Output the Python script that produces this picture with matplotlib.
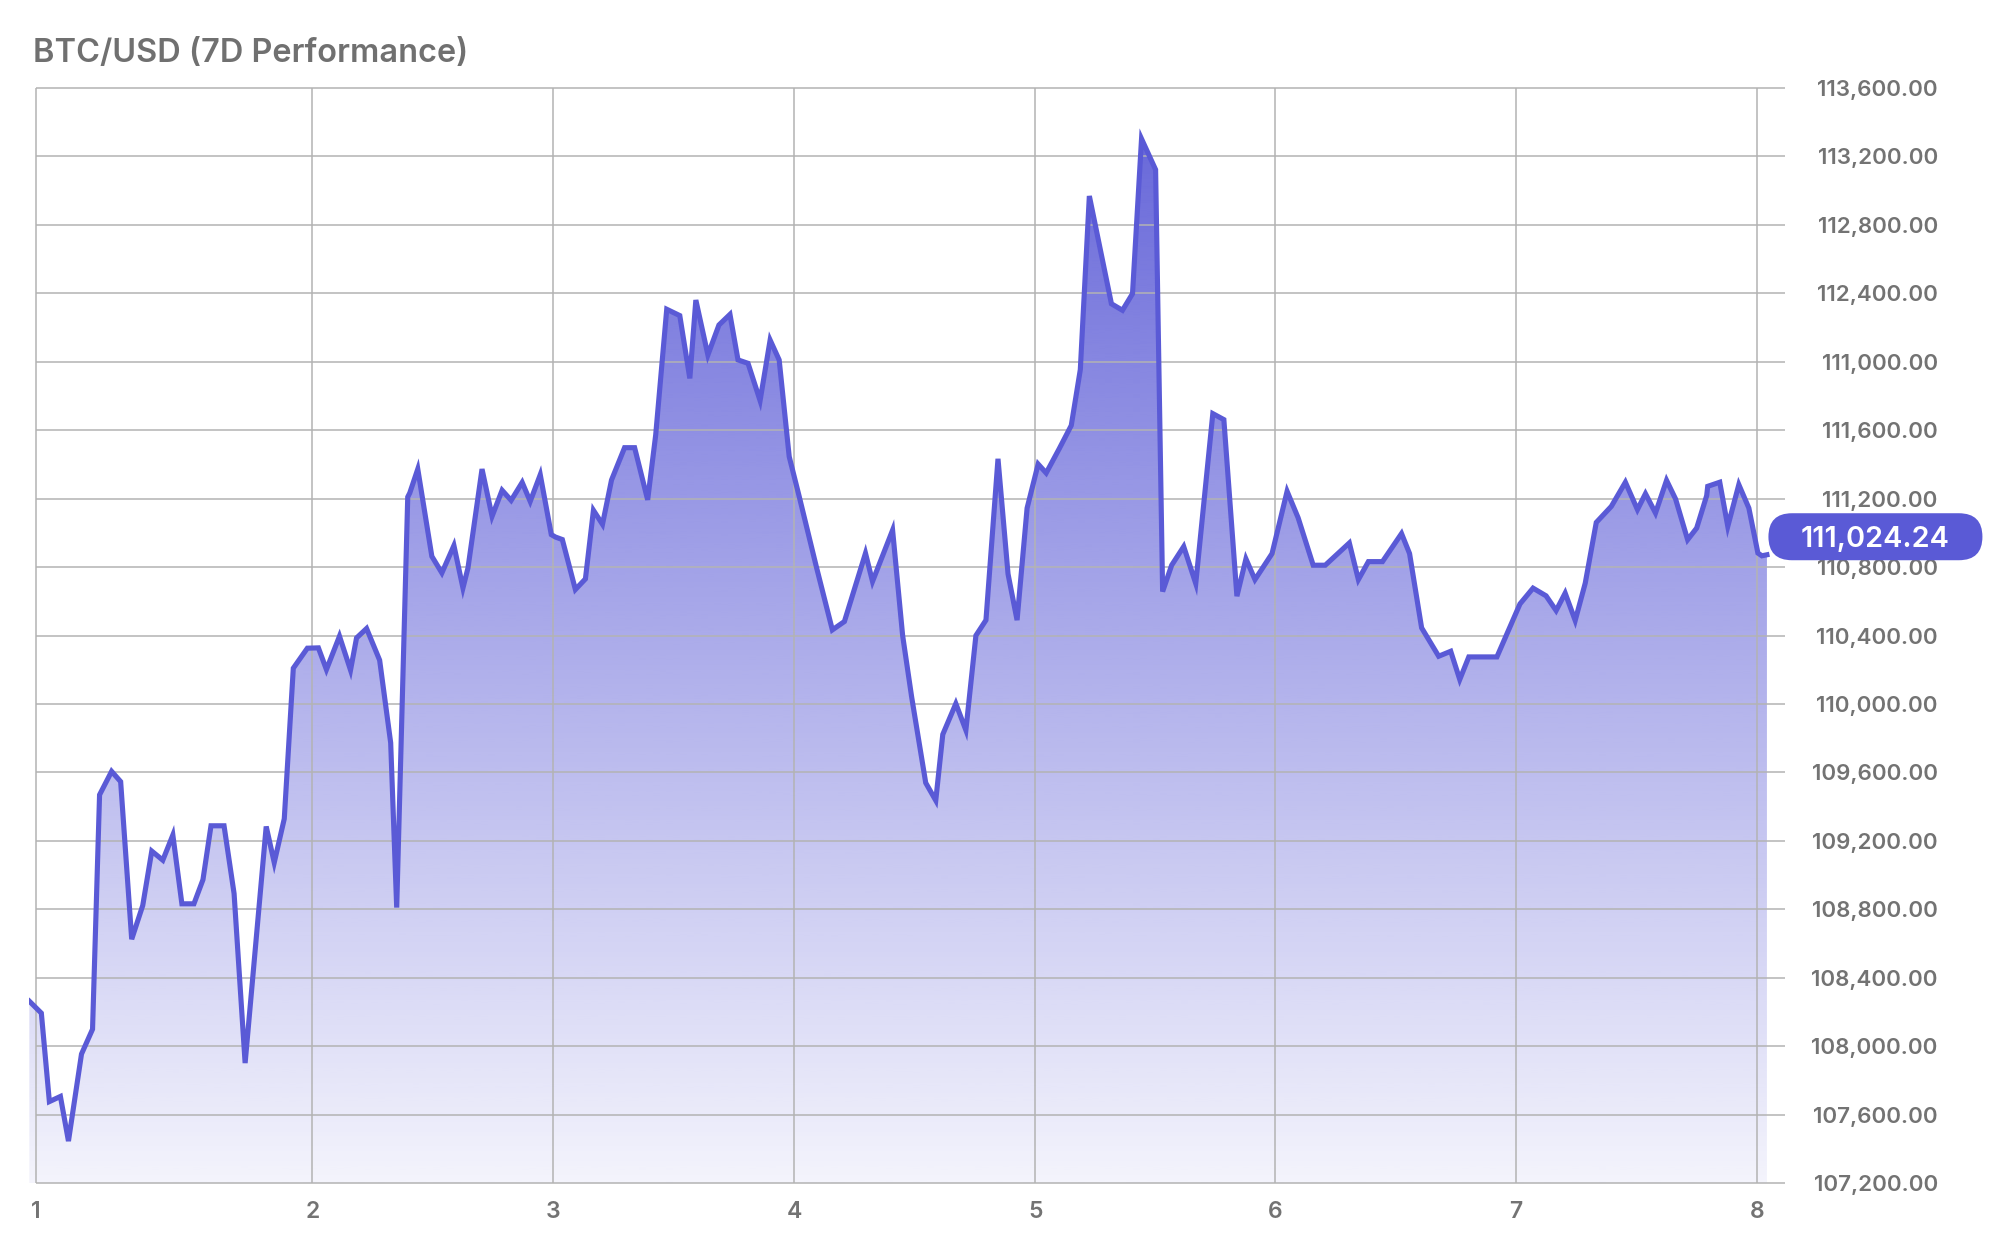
import numpy as np
import matplotlib.pyplot as plt
from matplotlib.patches import FancyBboxPatch, PathPatch
from matplotlib.transforms import IdentityTransform

plt.rcParams['font.family'] = ['Inter', 'DejaVu Sans']

# hours since start of window, BTC/USD price
hours = [0.0, 1.2, 2.0, 3.1, 3.9, 5.2, 6.3, 7.0, 8.2, 9.1,
         10.2, 11.3, 12.2, 13.3, 14.3, 15.2, 16.4, 17.3, 18.1, 19.4,
         20.4, 21.5, 23.6, 24.4, 25.4, 26.3, 27.7, 28.8, 29.6, 30.9,
         32.0, 32.6, 33.6, 34.9, 36.0, 36.6, 37.7, 37.9, 38.7, 40.1,
         41.1, 42.3, 43.2, 43.7, 45.1, 46.1, 47.1, 48.0, 49.1, 49.9,
         50.9, 52.0, 52.4, 53.1, 54.4, 55.4, 56.2, 57.1, 58.0, 59.3,
         60.3, 61.6, 62.4, 63.5, 64.8, 65.8, 66.4, 67.6, 68.7, 69.8,
         70.6, 71.6, 72.8, 73.8, 74.7, 75.7, 76.7, 78.4, 80.0, 81.2,
         83.3, 84.0, 86.0, 87.0, 87.9, 89.3, 90.3, 91.0, 92.3, 93.3,
         94.3, 95.3, 96.5, 97.5, 98.4, 99.4, 100.5, 101.3, 102.6, 103.8,
         104.7, 105.6, 107.8, 108.9, 109.9, 110.8, 112.2, 112.9, 113.8, 115.0,
         116.2, 117.9, 119.0, 120.3, 121.2, 122.1, 123.8, 125.3, 126.4, 127.9,
         129.1, 131.5, 132.4, 133.4, 134.8, 136.7, 137.5, 138.7, 140.4, 141.6,
         142.5, 143.4, 146.2, 148.5, 149.8, 151.1, 152.1, 153.0, 154.0, 155.0,
         156.1, 157.6, 159.0, 160.2, 161.0, 162.0, 163.1, 164.0, 165.2, 166.1,
         167.1, 167.2, 168.4, 169.2, 170.3, 171.3, 172.2, 172.6, 173.1]
prices = [108263, 108193, 107676, 107706, 107445, 107954, 108099, 109469, 109606, 109546,
          108625, 108822, 109140, 109087, 109234, 108832, 108832, 108973, 109288, 109288,
          108892, 107901, 109284, 109073, 109329, 110209, 110326, 110328, 110201, 110396,
          110198, 110386, 110441, 110256, 109773, 108810, 111210, 111233, 111373, 110863,
          110766, 110926, 110678, 110795, 111373, 111097, 111249, 111190, 111295, 111184,
          111340, 110990, 110976, 110961, 110669, 110731, 111132, 111050, 111309, 111498,
          111498, 111193, 111572, 112307, 112270, 111903, 112361, 112040, 112215, 112277,
          112011, 111991, 111773, 112127, 112011, 111446, 111212, 110803, 110433, 110482,
          110881, 110716, 111016, 110400, 110040, 109539, 109436, 109822, 110002, 109847,
          110400, 110490, 111433, 110760, 110490, 111145, 111402, 111350, 111492, 111628,
          111954, 112969, 112339, 112301, 112398, 113303, 113123, 110657, 110811, 110920,
          110704, 111697, 111662, 110630, 110848, 110727, 110879, 111243, 111088, 110811,
          110811, 110941, 110727, 110832, 110832, 110996, 110879, 110445, 110279, 110308,
          110143, 110275, 110275, 110585, 110677, 110632, 110546, 110648, 110488, 110706,
          111061, 111155, 111296, 111136, 111229, 111116, 111307, 111198, 110960, 111028,
          111218, 111272, 111296, 111038, 111282, 111145, 110882, 110866, 110872]

day_ticks = [0.64, 28.2, 52.2, 76.2, 100.2, 124.1, 148.1, 172.15]
day_labels = ['1', '2', '3', '4', '5', '6', '7', '8']
price_ticks = [113600, 113200, 112800, 112400, 112000, 111600, 111200, 110800,
               110400, 110000, 109600, 109200, 108800, 108400, 108000, 107600, 107200]
price_labels = ['113,600.00', '113,200.00', '112,800.00', '112,400.00', '111,000.00',
                '111,600.00', '111,200.00', '110,800.00', '110,400.00', '110,000.00',
                '109,600.00', '109,200.00', '108,800.00', '108,400.00', '108,000.00',
                '107,600.00', '107,200.00']
last_price = 111024.24
title = 'BTC/USD (7D Performance)'

line_color = '#5a5ad6'
grid_color = '#b3b3b3'
text_color = '#737373'
x_max = 174.9
y_min, y_max = 107200, 113600

fig = plt.figure(figsize=(20, 12.56), dpi=100)
ax = fig.add_axes([0.01465, 0.0581, 0.87785, 0.8718])

# gradient fill under the line
grad = np.zeros((256, 1, 4))
grad[..., 0] = 0x5a / 255
grad[..., 1] = 0x5a / 255
grad[..., 2] = 0xd6 / 255
grad[..., 3] = np.linspace(0.95, 0.07, 256)[:, None]
im = ax.imshow(grad, aspect='auto', extent=(0, x_max, y_min, y_max),
               origin='upper', interpolation='bilinear', zorder=1)
area = ax.fill_between(hours, prices, y_min, facecolor='none', edgecolor='none')
clip = PathPatch(area.get_paths()[0], transform=ax.transData,
                 facecolor='none', edgecolor='none')
ax.add_patch(clip)
im.set_clip_path(clip)

ax.plot(hours, prices, color=line_color, lw=3.7, solid_joinstyle='miter', zorder=4)

ax.set_xlim(0, x_max)
ax.set_ylim(y_min, y_max)

# grid
ax.hlines(price_ticks, day_ticks[0], x_max, color=grid_color, lw=1.1, zorder=2, clip_on=False)
ax.vlines(day_ticks, y_min, y_max, color=grid_color, lw=1.1, zorder=2, clip_on=False)

for s in ax.spines.values():
    s.set_visible(False)

ax.set_xticks(day_ticks)
ax.set_xticklabels(day_labels)
ax.yaxis.tick_right()
ax.set_yticks(price_ticks)
ax.set_yticklabels(price_labels)
ax.tick_params(axis='x', length=0, pad=13, labelsize=16.5, labelcolor=text_color)
ax.tick_params(axis='y', length=0, pad=110, labelsize=16.1, labelcolor=text_color)
for lab in ax.get_yticklabels():
    lab.set_horizontalalignment('right')
    lab.set_fontweight('semibold')
for lab in ax.get_xticklabels():
    lab.set_fontweight('semibold')

fig.text(0.0165, 0.9575, title, fontsize=23.4, fontweight='semibold',
         color='#707070', va='center', ha='left')

# current price pill
end_x, end_y = ax.transData.transform((hours[-1], last_price))
pill_w, pill_h = 214, 47
px0 = end_x + 1.5
pcy = end_y - 8
pill = FancyBboxPatch((px0, pcy - pill_h / 2), pill_w, pill_h,
                      boxstyle='round,pad=0,rounding_size=23.5',
                      transform=IdentityTransform(), facecolor=line_color,
                      edgecolor='none', zorder=5)
fig.add_artist(pill)
fig.text(px0 + pill_w / 2, pcy, f'{last_price:,.2f}', transform=IdentityTransform(),
         ha='center', va='center_baseline', color='white', fontsize=20.8,
         fontweight='semibold', zorder=6)

fig.savefig('out.png', dpi=100)
